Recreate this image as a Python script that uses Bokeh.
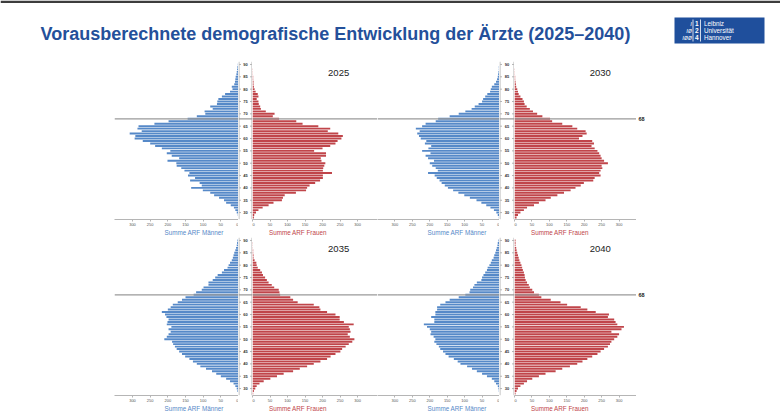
from bokeh.plotting import figure
from bokeh.layouts import column, row
from bokeh.models import Range1d, Span, Title, ColumnDataSource, FixedTicker, Spacer
from bokeh.embed import file_html
from bokeh.resources import INLINE
from bokeh.core.properties import value

# ---------------------------------------------------------------- data
TITLE = "Vorausberechnete demografische Entwicklung der Ärzte (2025–2040)"
years = ["2025", "2030", "2035", "2040"]
ages = list(range(28, 91))                      # one bar per age year
age_ticks = list(range(30, 91, 5))
count_ticks = [0, 50, 100, 150, 200, 250, 300]
retirement_age = 68
men_label = "Summe ARF Männer"
women_label = "Summe ARF Frauen"

men_2025 = [1, 2, 5, 9, 13, 22, 35, 41, 55, 69,
            80, 101, 134, 104, 110, 137, 123, 143, 139, 153,
            162, 175, 176, 201, 168, 189, 203, 193, 217, 236,
            250, 271, 294, 292, 308, 274, 286, 283, 238, 198,
            144, 118, 94, 96, 73, 80, 61, 60, 57, 47,
            38, 24, 17, 19, 12, 10, 9, 8, 6, 5,
            4, 3, 2]
women_2025 = [4, 5, 10, 17, 29, 46, 60, 84, 87, 92,
              124, 153, 156, 163, 179, 193, 201, 201, 227, 201,
              202, 205, 208, 197, 195, 210, 210, 176, 200, 222,
              237, 243, 254, 258, 245, 215, 222, 188, 143, 125,
              76, 58, 63, 38, 24, 22, 18, 17, 12, 17,
              15, 9, 6, 4, 3, 3, 2, 2, 1, 1,
              1, 0, 0]
men_2030 = [2, 5, 9, 16, 26, 38, 52, 66, 85, 101,
            118, 133, 148, 157, 166, 172, 180, 186, 205, 177,
            183, 193, 200, 188, 205, 212, 198, 222, 204, 196,
            214, 210, 226, 231, 236, 229, 240, 222, 212, 183,
            176, 143, 117, 98, 80, 71, 60, 50, 47, 41,
            35, 27, 25, 22, 15, 10, 7, 5, 4, 3,
            2, 2, 1]
women_2030 = [6, 10, 17, 27, 36, 56, 70, 89, 104, 123,
              142, 161, 175, 190, 199, 226, 230, 247, 243, 247,
              252, 250, 268, 257, 250, 247, 243, 238, 230, 221,
              228, 223, 185, 195, 207, 204, 180, 166, 137, 108,
              102, 80, 65, 53, 44, 35, 29, 27, 23, 17,
              12, 10, 8, 5, 4, 3, 2, 2, 1, 1,
              1, 0, 0]
men_2035 = [1, 3, 5, 9, 14, 24, 35, 50, 63, 75,
            92, 108, 118, 129, 139, 151, 160, 168, 175, 180,
            185, 188, 210, 203, 198, 192, 198, 190, 203, 201,
            198, 204, 208, 217, 200, 192, 186, 172, 160, 150,
            127, 120, 104, 99, 85, 85, 73, 66, 59, 47,
            41, 31, 28, 24, 19, 16, 14, 12, 9, 7,
            5, 4, 3]
women_2035 = [2, 4, 8, 12, 20, 32, 51, 70, 89, 116,
              135, 156, 175, 194, 213, 223, 237, 251, 256, 266,
              275, 285, 291, 278, 272, 280, 278, 275, 289, 261,
              249, 249, 237, 213, 194, 191, 175, 129, 116, 108,
              79, 77, 75, 62, 55, 46, 41, 36, 30, 27,
              22, 15, 12, 11, 6, 3, 3, 2, 2, 1,
              1, 1, 0]
men_2040 = [1, 2, 3, 5, 10, 15, 22, 36, 50, 65,
            79, 93, 112, 120, 131, 146, 155, 162, 170, 174,
            181, 187, 184, 189, 198, 196, 200, 208, 217, 187,
            187, 196, 184, 184, 179, 179, 170, 155, 143, 117,
            98, 86, 84, 76, 72, 65, 52, 50, 46, 41,
            36, 34, 29, 25, 22, 17, 15, 12, 10, 8,
            6, 5, 3]
women_2040 = [3, 6, 10, 17, 27, 36, 51, 70, 89, 118,
              137, 159, 180, 195, 209, 223, 238, 247, 257, 268,
              274, 278, 286, 295, 300, 278, 307, 314, 295, 290,
              286, 268, 271, 233, 209, 190, 151, 132, 104, 77,
              70, 56, 51, 44, 41, 36, 32, 30, 29, 27,
              24, 22, 20, 17, 14, 12, 10, 8, 6, 5,
              3, 3, 3]

# ---------------------------------------------------------------- style
FONT = "Liberation Sans"
BLUE = "#5689c8"
RED = "#c0454a"
TITLE_BLUE = "#24509a"
LOGO_BLUE = "#1f4f9c"
AXIS_GRAY = "#b5b5b5"
REF_GRAY = "#9a9a9a"
FRAME_H = 160
AGE_LO, AGE_HI = 27.2, 91.2


def base_fig(width, top, bottom, x_range, y_range):
    p = figure(width=width, height=top + FRAME_H + bottom,
               x_range=x_range, y_range=y_range,
               output_backend="svg", toolbar_location=None,
               min_border_left=0, min_border_right=0,
               min_border_top=top, min_border_bottom=bottom,
               y_axis_location=None)
    p.grid.visible = False
    p.outline_line_color = None
    p.background_fill_color = "white"
    p.border_fill_color = "white"
    return p


def side_fig(values, color, men, width, xmax, top, bottom, y_range, year=None):
    rng = Range1d(xmax, 0) if men else Range1d(0, xmax)
    p = base_fig(width, top, bottom, rng, y_range)
    src = ColumnDataSource(dict(age=ages, n=values))
    p.hbar(y="age", left=0, right="n", height=0.78, source=src,
           fill_color=color, line_color=None)
    ax = p.xaxis[0]
    ax.ticker = FixedTicker(ticks=count_ticks)
    ax.axis_line_color = AXIS_GRAY
    ax.major_tick_line_color = AXIS_GRAY
    ax.major_tick_in = 0
    ax.major_tick_out = 2
    ax.minor_tick_line_color = None
    ax.major_label_standoff = 1
    ax.major_label_text_font = FONT
    ax.major_label_text_font_size = "4px"
    ax.major_label_text_color = "#555555"
    p.add_layout(Span(location=retirement_age, dimension="width",
                      line_color=REF_GRAY, line_width=1.2))
    # axis caption, shifted towards the age column
    p.add_layout(Title(text=men_label if men else women_label,
                       align="left", offset=50 if men else 16.5, standoff=0,
                       vertical_align="top",
                       text_font=FONT, text_font_size="6.3px",
                       text_font_style="normal", text_color=color), "below")
    if year is not None:
        p.text(x=[246], y=[86.7], text=[year], text_font=value(FONT),
               text_font_size="9.5px", text_color="#222222",
               text_align="center", text_baseline="middle")
    return p


def age_fig(width, top, bottom, y_range):
    p = base_fig(width, top, bottom, Range1d(0, width), y_range)
    p.xaxis.visible = False
    for x in (0.5, width - 0.5):
        p.add_layout(Span(location=x, dimension="height",
                          line_color=AXIS_GRAY, line_width=1))
    p.segment(x0=[0.5] * len(age_ticks), x1=[2.5] * len(age_ticks),
              y0=age_ticks, y1=age_ticks, line_color=AXIS_GRAY, line_width=1)
    p.segment(x0=[width - 2.5] * len(age_ticks), x1=[width - 0.5] * len(age_ticks),
              y0=age_ticks, y1=age_ticks, line_color=AXIS_GRAY, line_width=1)
    p.text(x=[width / 2] * len(age_ticks), y=age_ticks,
           text=[str(a) for a in age_ticks], text_font=value(FONT),
           text_font_size="4px", text_font_style="bold", text_color="#333333",
           text_align="center", text_baseline="middle")
    p.add_layout(Span(location=retirement_age, dimension="width",
                      line_color=REF_GRAY, line_width=1.2))
    return p


def ref_label_fig(width, top, bottom, y_range):
    p = base_fig(width, top, bottom, Range1d(0, width), y_range)
    p.xaxis.visible = False
    p.text(x=[2], y=[retirement_age], text=[str(retirement_age)],
           text_font=value(FONT), text_font_size="5.5px",
           text_font_style="bold", text_color="#222222",
           text_align="left", text_baseline="middle")
    return p


def panel_row(top, bottom, data_left, data_right):
    yr = Range1d(AGE_LO, AGE_HI)
    (m_l, w_l, y_l), (m_r, w_r, y_r) = data_left, data_right
    h = top + FRAME_H + bottom
    return row(
        Spacer(width=114, height=h),
        side_fig(m_l, BLUE, True, 124, 351, top, bottom, yr),
        age_fig(14, top, bottom, yr),
        side_fig(w_l, RED, False, 125, 357, top, bottom, yr, y_l),
        side_fig(m_r, BLUE, True, 122, 350, top, bottom, yr),
        age_fig(15, top, bottom, yr),
        side_fig(w_r, RED, False, 122, 350, top, bottom, yr, y_r),
        ref_label_fig(14, top, bottom, yr),
        Spacer(width=130, height=h),
        spacing=0,
    )


# ---------------------------------------------------------------- header
head = figure(width=780, height=56, x_range=Range1d(0, 780), y_range=Range1d(56, 0),
              output_backend="svg", toolbar_location=None,
              min_border=0, x_axis_location=None, y_axis_location=None)
head.grid.visible = False
head.outline_line_color = None
head.quad(left=[0], right=[780], top=[0], bottom=[2.5], fill_color="#3d3d3d", line_color=None)
head.text(x=[40], y=[33.5], text=[TITLE], text_font=value(FONT), text_font_style="bold",
          text_font_size="18px", text_color=TITLE_BLUE, text_baseline="middle")
# university logo
head.quad(left=[674], right=[764], top=[17], bottom=[43], fill_color=LOGO_BLUE, line_color=None)
head.segment(x0=[700, 692.5], x1=[700, 692.5], y0=[19, 19], y1=[41, 41],
             line_color="white", line_width=0.8)
head.text(x=[691.5] * 3, y=[23, 30, 37], text=["ı", "ıø", "ıøø"], text_font=value(FONT),
          text_font_size="6.5px", text_font_style="italic", text_color="white",
          text_align="right", text_baseline="middle")
head.text(x=[694.5] * 3, y=[23, 30, 37], text=["1", "2", "4"], text_font=value(FONT),
          text_font_size="6.5px", text_font_style="bold", text_color="white",
          text_align="left", text_baseline="middle")
head.text(x=[703.5] * 3, y=[23, 30, 37], text=["Leibniz", "Universität", "Hannover"],
          text_font=value(FONT), text_font_size="6.3px", text_color="white",
          text_align="left", text_baseline="middle")

top_row = panel_row(5, 16, (men_2025, women_2025, years[0]), (men_2030, women_2030, years[1]))
bottom_row = panel_row(0, 16, (men_2035, women_2035, years[2]), (men_2040, women_2040, years[3]))

page = column(head, top_row, bottom_row, Spacer(width=780, height=4), spacing=0)

with open("out.html", "w") as f:
    f.write(file_html(page, INLINE))
